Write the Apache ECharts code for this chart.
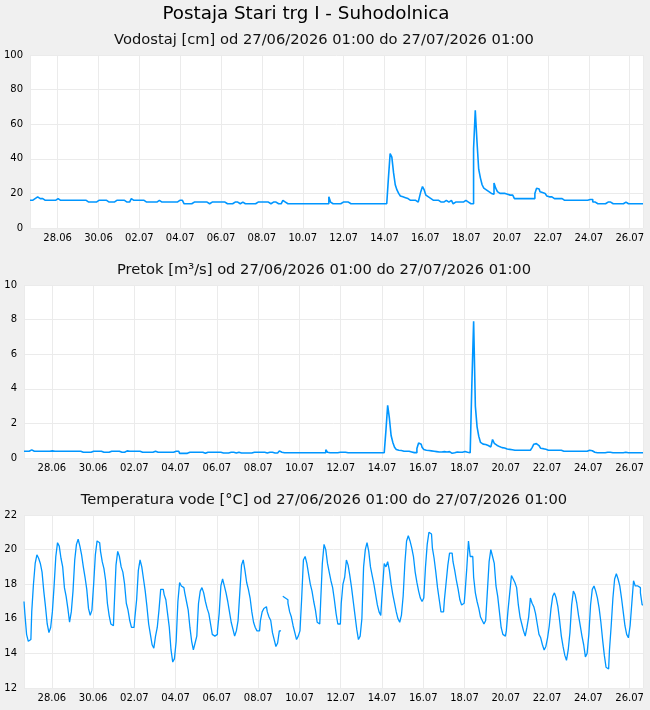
<!DOCTYPE html>
<html><head><meta charset="utf-8">
<script src="https://cdn.jsdelivr.net/npm/echarts@6/dist/echarts.min.js"></script>
<style>html,body{margin:0;padding:0;background:#f0f0f0}#c{width:650px;height:710px}</style>
</head><body><div id="c"></div><script>
const MAIN_TITLE = 'Postaja Stari trg I - Suhodolnica';
const SUBTITLES = [
  'Vodostaj [cm] od 27/06/2026 01:00 do 27/07/2026 01:00',
  'Pretok [m³/s] od 27/06/2026 01:00 do 27/07/2026 01:00',
  'Temperatura vode [°C] od 27/06/2026 01:00 do 27/07/2026 01:00'
];
// x axis in days after 26.06.2026 00:00 (label days: 28.06 = 2, 30.06 = 4, ...)
const X_START = 0.65;
const X_END = 30.65;
const STEP_DAYS = 1 / 12; // one reading every 2 hours
const Y_AXES = [
  {min: 0, max: 100, interval: 20},
  {min: 0, max: 10, interval: 2},
  {min: 12, max: 22, interval: 2}
];
// Vodostaj [cm]
const LEVEL = [
16,16,17,17,18,17,17,17,16,16,16,16,
16,16,16,16,17,16,16,16,16,16,16,16,
16,16,16,16,16,17,16,16,16,16,15,15,
15,15,16,15,16,16,16,16,16,16,15,15,
15,15,16,16,16,16,16,16,15,15,15,15,
17,16,16,16,16,16,16,16,15,15,15,15,
15,15,15,15,16,15,15,15,15,15,15,15,
15,15,15,15,16,16,16,14,14,14,14,14,
15,15,15,15,15,15,15,15,15,14,14,15,
15,15,15,15,15,15,15,15,14,14,14,14,
15,15,15,14,15,15,14,15,14,14,14,14,
14,14,15,15,15,15,15,15,15,14,14,15,
15,15,14,14,14,16,15,14,14,14,14,14,
14,14,14,14,14,14,14,14,14,14,14,14,
14,14,14,14,14,14,14,14,18,15,14,14,
14,14,14,15,15,15,15,15,14,14,14,14,
14,14,14,14,14,14,15,14,14,14,14,14,
14,14,14,14,14,14,14,29,43,41,32,25,
22,20,18.5,18,17.5,17,17,16,17,16,16,15,
15,17,21,24,22,19,18,17,17,16,16,16,
16,15,16,15,16,15,15,16,15,14,15,15,
16,15,15,15,16,15,15,14,14,46,68,50,
34,29,25,23,22,21,20.5,20,19.5,26,23,21,
20,20,19.5,20,19.5,19,19,19,18,17,17,17,
17,17,17,17,17,17,17,17,17,20,23,22.5,
21,20.5,20,19,18.5,18,18,17,17,17,17,17,
17,17,16,16,16,16,16,16,16,16,16,16,
16,16,16,16,16,16.5,16.5,15,15,14,14,14,
14,14,14,15,15,15,14,14,14,14,14,14,
14,14,15,14,15,14,14,14,14,14,14,14,
14
];
// Pretok [m3/s]
const FLOW = [
.39,.39,.39,.39,.47,.39,.39,.39,.39,.39,.39,.39,
.39,.39,.39,.39,.41,.39,.39,.39,.39,.39,.39,.39,
.39,.39,.39,.39,.39,.41,.39,.39,.39,.39,.33,.33,
.33,.33,.39,.33,.39,.39,.39,.39,.39,.39,.33,.33,
.33,.33,.39,.39,.39,.39,.39,.39,.33,.33,.33,.33,
.41,.39,.39,.39,.39,.39,.39,.39,.33,.33,.33,.33,
.33,.33,.33,.33,.39,.33,.33,.33,.33,.33,.33,.33,
.33,.33,.33,.33,.39,.39,.39,.27,.27,.27,.27,.27,
.33,.33,.33,.33,.33,.33,.33,.33,.33,.27,.27,.33,
.33,.33,.33,.33,.33,.33,.33,.33,.29,.29,.29,.29,
.33,.33,.33,.29,.33,.33,.29,.33,.29,.29,.29,.29,
.29,.29,.33,.33,.33,.33,.33,.33,.33,.29,.29,.33,
.33,.33,.29,.29,.29,.41,.33,.30,.30,.30,.30,.30,
.30,.30,.30,.30,.30,.30,.30,.30,.30,.30,.30,.30,
.30,.30,.30,.30,.30,.30,.30,.30,.48,.33,.30,.30,
.30,.30,.30,.33,.33,.33,.33,.33,.30,.30,.30,.30,
.30,.30,.30,.30,.30,.30,.33,.30,.30,.30,.30,.30,
.30,.30,.30,.30,.30,.30,.30,1.6,3.05,2.3,1.3,.9,
.62,.49,.45,.43,.41,.39,.39,.37,.39,.35,.35,.31,
.31,.55,.87,.8,.62,.49,.45,.43,.42,.41,.39,.37,
.37,.35,.37,.35,.37,.35,.35,.37,.30,.27,.30,.33,
.35,.33,.35,.33,.37,.33,.33,.30,.30,4.4,7.9,3.0,
1.8,1.25,.9,.8,.78,.76,.72,.64,.56,1.07,.85,.74,
.66,.62,.6,.58,.55,.52,.5,.5,.48,.45,.45,.45,
.45,.45,.45,.45,.45,.45,.45,.45,.6,.8,.83,.72,
.64,.56,.54,.5,.48,.45,.45,.45,.45,.45,.45,.45,
.45,.42,.39,.39,.39,.39,.39,.39,.39,.39,.39,.39,
.39,.39,.39,.39,.39,.45,.42,.33,.33,.30,.30,.30,
.30,.30,.30,.33,.33,.33,.30,.30,.30,.30,.30,.30,
.30,.30,.33,.30,.33,.30,.30,.30,.30,.30,.30,.30,
.30
];
// Temperatura vode [°C]
const TEMP = [
17.0,16.3,15.1,14.7,14.8,16.4,18.0,19.2,19.7,19.5,19.2,18.7,
17.6,16.7,15.7,15.2,15.5,16.4,17.9,19.6,20.4,20.2,19.5,19.0,
17.8,17.3,16.6,15.8,16.4,17.6,19.4,20.3,20.6,20.2,19.7,19.0,
18.4,17.7,16.6,16.2,16.5,18.0,19.7,20.5,20.4,19.9,19.3,18.9,
18.2,16.9,16.2,15.7,15.6,16.8,19.1,19.9,19.6,19.0,18.7,18.0,
16.9,16.5,15.9,15.5,15.5,16.1,17.1,18.8,19.4,19.0,18.3,17.6,
16.7,15.7,15.1,14.5,14.3,15.0,15.5,16.5,17.7,17.7,17.4,17.1,
16.3,15.5,14.2,13.5,13.7,14.7,17.0,18.1,17.9,17.8,17.5,17.0,
16.5,15.5,14.7,14.2,14.6,15.0,16.9,17.6,17.8,17.5,17.0,16.6,
16.3,15.7,15.1,15.0,15.1,15.3,16.3,17.9,18.3,17.9,17.5,17.0,
16.4,15.8,15.4,15.0,15.3,15.9,17.5,19.1,19.4,18.8,18.1,17.7,
17.2,16.4,15.8,15.5,15.3,15.3,15.9,16.4,16.6,16.7,16.4,16.1,
15.9,15.2,14.8,14.4,14.6,15.3,null,17.3,17.2,17.1,16.9,16.4,
16.1,15.6,15.2,14.8,15.0,15.3,17.2,19.4,19.6,19.2,18.6,18.0,
17.6,17.0,16.5,15.8,15.7,16.9,19.2,20.3,20.0,19.2,18.7,18.2,
17.8,17.1,16.3,15.7,15.7,16.9,18.0,18.4,19.4,19.1,18.5,17.8,
17.0,16.2,15.4,14.8,15.0,16.0,19.0,20.0,20.4,19.9,19.0,18.5,
18.0,17.4,16.8,16.4,16.2,17.8,19.2,19.0,19.3,18.8,18.0,17.4,
16.9,16.4,16.0,15.8,16.2,17.3,19.2,20.5,20.8,20.5,20.1,19.6,
18.7,18.1,17.6,17.2,17.0,17.2,19.0,20.3,21.0,20.9,20.1,19.5,
18.7,17.8,17.1,16.4,16.4,17.1,18.1,19.1,19.8,19.8,19.3,18.8,
18.2,17.7,17.1,16.8,16.9,17.5,18.9,20.5,19.6,19.6,18.4,17.5,
17.0,16.6,16.1,15.9,15.7,15.9,17.6,19.3,20.0,19.6,19.2,17.9,
17.3,16.4,15.5,15.1,15.0,15.3,16.5,17.5,18.5,18.3,18.1,17.8,
16.8,16.1,15.7,15.3,15.0,15.5,16.1,17.2,16.9,16.7,16.3,15.7,
15.1,14.9,14.5,14.2,14.4,14.9,15.6,16.6,17.3,17.5,17.2,16.7,
15.9,15.0,14.4,13.9,13.6,14.2,15.2,16.8,17.6,17.4,16.9,16.2,
15.6,15.0,14.5,13.8,14.0,15.1,16.8,17.7,17.9,17.6,17.2,16.6,
15.8,14.8,13.9,13.2,13.1,14.2,15.6,17.2,18.3,18.6,18.3,17.9,
17.2,16.4,15.6,15.1,14.9,15.6,16.9,18.2,17.9,17.9,17.8,17.5,
16.8
];
const SERIES_VALUES = [LEVEL, FLOW, TEMP];

const FONT = 'DejaVu Sans';
const LINE_COLOR = '#0096ff';
const LINE_WIDTHS = [1.6, 1.6, 1.3];
const GRIDS = [
  {left: 30, right: 7, top: 55, height: 173},
  {left: 24, right: 7, top: 285, height: 173},
  {left: 24, right: 7, top: 515, height: 173}
];
const SUB_Y = [40, 270, 500];

function pad(n) { return (n < 10 ? '0' : '') + n; }
function dayLabel(v) {
  const d = new Date(2026, 5, 26 + Math.round(v));
  return pad(d.getDate()) + '.' + pad(d.getMonth() + 1);
}
function toPairs(vals) {
  return vals.map((v, i) => [X_START + i * STEP_DAYS, v]);
}

const chart = echarts.init(document.getElementById('c'), null, {renderer: 'canvas'});
const titles = [{
  text: MAIN_TITLE, left: 306, top: 14, textAlign: 'center', textVerticalAlign: 'middle', padding: 0,
  textStyle: {fontFamily: FONT, fontSize: 18.3, fontWeight: 'normal', color: '#000'}
}].concat(SUBTITLES.map((t, k) => ({
  text: t, left: 324, top: SUB_Y[k], textAlign: 'center', textVerticalAlign: 'middle', padding: 0,
  textStyle: {fontFamily: FONT, fontSize: 14.7, fontWeight: 'normal', color: '#111'}
})));

const option = {
  animation: false,
  backgroundColor: '#f0f0f0',
  title: titles,
  grid: GRIDS.map(g => Object.assign({show: true, backgroundColor: '#ffffff', borderWidth: 0, containLabel: false}, g)),
  xAxis: GRIDS.map((g, k) => ({
    type: 'value', gridIndex: k, min: X_START, max: X_END,
    splitNumber: 15, minInterval: 2, maxInterval: 2,
    axisLine: {show: false}, axisTick: {show: false},
    splitLine: {show: true, lineStyle: {color: '#ebebeb', width: 1}},
    axisLabel: {formatter: dayLabel, showMinLabel: false, showMaxLabel: false,
      fontFamily: FONT, fontSize: 10, color: '#000', margin: 5}
  })),
  yAxis: Y_AXES.map((a, k) => ({
    type: 'value', gridIndex: k, min: a.min, max: a.max, interval: a.interval,
    axisLine: {show: false}, axisTick: {show: false},
    splitLine: {show: true, lineStyle: {color: '#ebebeb', width: 1}},
    axisLabel: {fontFamily: FONT, fontSize: 10, color: '#000', margin: 7}
  })),
  series: SERIES_VALUES.map((vals, k) => ({
    type: 'line', xAxisIndex: k, yAxisIndex: k, data: toPairs(vals),
    step: 'middle', showSymbol: false, symbol: 'none', connectNulls: false,
    lineStyle: {color: LINE_COLOR, width: LINE_WIDTHS[k]}, itemStyle: {color: LINE_COLOR}
  }))
};
chart.setOption(option);
</script></body></html>
